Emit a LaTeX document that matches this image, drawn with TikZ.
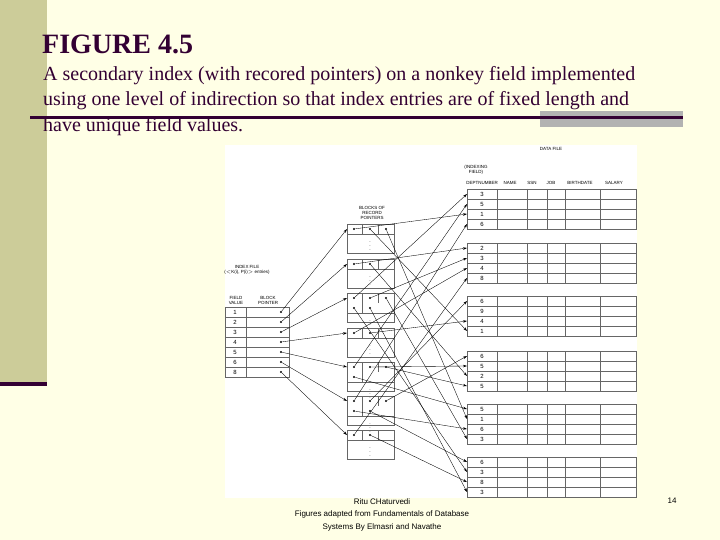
\documentclass[tikz,border=0pt]{standalone}
\usepackage{fontspec}
\setmainfont{Liberation Serif}
\newfontfamily\diagfont{Liberation Sans}
\usetikzlibrary{arrows.meta, positioning}
\definecolor{slidebg}{RGB}{255, 255, 230}
\definecolor{sidebar}{RGB}{204, 204, 153}
\definecolor{darkrule}{RGB}{51, 0, 51}

\begin{document}
\begin{tikzpicture}[
    x=1pt, y=-1pt,
    tiny/.style={font=\diagfont\fontsize{4.5}{5}\selectfont, align=center, inner sep=0pt},
    cell/.style={draw=gray!80!black, line width=0.5pt},
    ptr/.style={-{Stealth[length=4pt, width=2.5pt]}, line width=0.35pt},
    dot/.style={circle, fill, inner sep=0pt, minimum size=2.4pt},
  ]
    % slide background
    \fill[slidebg] (0,0) rectangle (720,540);
    \useasboundingbox (0,0) rectangle (720,540);
    \fill[sidebar] (0,0) rectangle (47,385);
    \fill[darkrule] (0,382) rectangle (47,386);
    \fill[gray!60] (540,111) rectangle (683,127);
    \fill[darkrule] (30,116) rectangle (683,119);

    % title and caption
    \node[anchor=base west, inner sep=0pt, font=\bfseries\fontsize{28}{30}\selectfont, text=darkrule] (title) at (42,54) {FIGURE 4.5};
    \node[anchor=north west, inner sep=0pt, align=left, text=darkrule,
          font=\fontsize{20}{25.5}\selectfont] (caption) at (43,66)
      {A secondary index (with recored pointers) on a nonkey field implemented\\
       using one level of indirection so that index entries are of fixed length and\\
       have unique field values.};

    % diagram area
    \fill[white] (225,145) rectangle (637,498);

    % data file
    \node[tiny] (dfile) at (551,149) {DATA FILE};
    \node[tiny] (ifield) at (476,170) {(INDEXING\\FIELD)};
    \foreach \h/\x in {DEPTNUMBER/482, NAME/510, SSN/532, JOB/551, BIRTHDATE/580, SALARY/614}
      \node[tiny] (hd-\h) at (\x,183) {\h};
    \foreach \top/\vals [count=\b] in {189/{3,5,1,6}, 243/{2,3,4,8}, 296/{6,9,4,1},
                                      351/{6,5,2,5}, 404/{5,1,6,3}, 457/{6,3,8,3}} {
      \foreach \v [count=\i] in \vals {
        \draw[cell] (467,\top+10*\i-10) rectangle (636,\top+10*\i);
        \node[tiny, font=\diagfont\fontsize{6}{6}\selectfont] (dv-\b-\i) at (482,\top+10*\i-5) {\v};
        \coordinate (d-\b-\i) at (467,\top+10*\i-5);
      }
      \foreach \x in {497,527,547,565,600}
        \draw[cell] (\x,\top) -- (\x,\top+40);
    }

    % blocks of record pointers
    \node[tiny] (bptr) at (372,213) {BLOCKS OF\\RECORD\\POINTERS};
    \foreach \top/\rows [count=\k] in {224/1, 259/1, 293/2, 328/1, 362/2, 396/2, 430/1} {
      \draw[cell] (347,\top) rectangle (394,\top+29);
      \draw[cell] (347,\top+10*\rows) -- (394,\top+10*\rows);
      \draw[cell] (362,\top) -- (362,\top+10*\rows) (378,\top) -- (378,\top+10);
      \node[tiny, font=\diagfont\fontsize{5}{2}\selectfont] (vd-\k) at (370,\top+10*\rows+9) {$\vdots$};
      \coordinate (blk-\k) at (347,\top+5);
    }

    % index file
    \node[tiny] (ifile) at (247,270) {INDEX FILE\\($<$K(i), P(i)$>$ entries)};
    \node[tiny] (fval) at (236,300) {FIELD\\VALUE};
    \node[tiny] (bpt) at (268,300) {BLOCK\\POINTER};
    \foreach \v [count=\k] in {1,2,3,4,5,6,8} {
      \draw[cell] (225,297+10*\k) rectangle (246,307+10*\k)
                  (246,297+10*\k) rectangle (289,307+10*\k);
      \node[tiny, font=\diagfont\fontsize{6}{6}\selectfont] (iv-\k) at (235,302+10*\k) {\v};
      \node[dot] (ip-\k) at (281,302+10*\k) {};
      \draw[ptr] (ip-\k) -- (blk-\k);
    }

    % record pointers to data records
    \foreach \top/\ptrs [count=\k] in {
        224/{1/3,3/4,5/2}, 259/{2/1,4/3}, 293/{1/1,2/2,5/4,6/2,6/4},
        328/{2/3,3/3}, 362/{1/2,4/2,4/4,5/1}, 396/{1/4,3/1,4/1,5/3,6/1},
        430/{2/4,6/3}} {
      \foreach \b/\i [count=\n] in \ptrs {
        \pgfmathsetmacro\px{\n<4 ? 354+16*(\n-1) : 354+16*(\n-4)}
        \pgfmathsetmacro\py{\n<4 ? \top+5 : \top+15}
        \node[dot] (p-\k-\n) at (\px,\py) {};
        \draw[ptr] (p-\k-\n) -- (d-\b-\i);
      }
    }

    % footer
    \node[font=\diagfont\fontsize{8}{12.5}\selectfont, align=center, anchor=north] (foot) at (382,495)
      {Ritu CHaturvedi\\Figures adapted from Fundamentals of Database\\Systems By Elmasri and Navathe};
    \node[font=\diagfont\fontsize{8}{10}\selectfont] (pnum) at (672,501) {14};
  \end{tikzpicture}
\end{document}
